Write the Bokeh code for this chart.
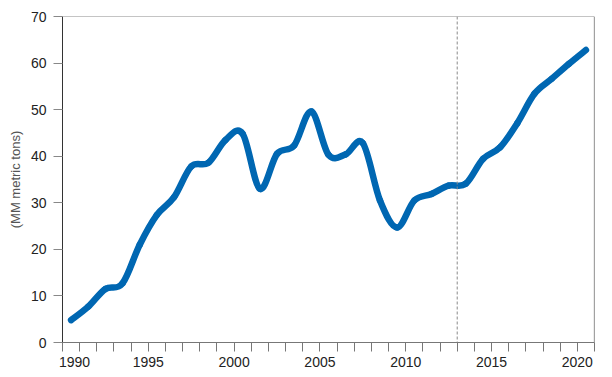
from bokeh.plotting import figure
from bokeh.models import Range1d, FixedTicker, Span, ColumnDataSource
from bokeh.embed import file_html
from bokeh.resources import INLINE

years = list(range(1990, 2021))
values = [4.8, 7.7, 11.5, 12.7, 21.0, 27.4, 31.2, 37.8, 38.6, 43.5,
          44.8, 33.0, 40.5, 42.3, 49.6, 40.3, 40.4, 42.8, 30.5, 24.7,
          30.5, 31.9, 33.7, 34.1, 39.4, 41.9, 47.1, 53.4, 56.6, 59.8, 62.8]
y_ticks = [0, 10, 20, 30, 40, 50, 60, 70]
x_label_years = [1990, 1995, 2000, 2005, 2010, 2015, 2020]
forecast_start = 2013
y_title = "(MM metric tons)"

FONT = "Liberation Sans"
BLUE = "#0067b2"

p = figure(width=604, height=372, output_backend="svg", toolbar_location=None,
           x_range=Range1d(1990, 2021), y_range=Range1d(0, 70),
           min_border_left=62, min_border_right=10, min_border_top=16,
           min_border_bottom=30)
p.outline_line_color = None
p.background_fill_color = "white"
p.border_fill_color = "white"
p.xgrid.visible = False
p.ygrid.visible = False

# smooth line (Excel-like) through yearly points placed mid-year
xs = [y + 0.5 for y in years]
n = len(xs)
def pt(i):
    i = max(0, min(n - 1, i))
    return xs[i], values[i]
x0, y0, x1, y1, cx0, cy0, cx1, cy1 = [], [], [], [], [], [], [], []
for i in range(n - 1):
    pa = pt(i - 1); pb = pt(i); pc = pt(i + 1); pd = pt(i + 2)
    x0.append(pb[0]); y0.append(pb[1]); x1.append(pc[0]); y1.append(pc[1])
    cx0.append(pb[0] + (pc[0] - pa[0]) / 6.0); cy0.append(pb[1] + (pc[1] - pa[1]) / 6.0)
    cx1.append(pc[0] - (pd[0] - pb[0]) / 6.0); cy1.append(pc[1] - (pd[1] - pb[1]) / 6.0)
src = ColumnDataSource(dict(x0=x0, y0=y0, x1=x1, y1=y1, cx0=cx0, cy0=cy0, cx1=cx1, cy1=cy1))
p.bezier(x0="x0", y0="y0", x1="x1", y1="y1", cx0="cx0", cy0="cy0", cx1="cx1", cy1="cy1",
         source=src, line_color=BLUE, line_width=6.5, line_cap="round")

# frame lines
p.add_layout(Span(location=70, dimension="width", line_color="#8a8a8a", line_width=1))
p.add_layout(Span(location=2021, dimension="height", line_color="#444444", line_width=1.2))
p.add_layout(Span(location=forecast_start, dimension="height", line_color="#8a8a8a",
                  line_width=1, line_dash="3 2"))

# x axis: every year gets a tick mark; labels every 5 years (first label nudged right)
first_label_pos = x_label_years[0] + 0.7
label_pos = [first_label_pos] + x_label_years[1:]
xa = p.xaxis[0]
xa.ticker = FixedTicker(ticks=label_pos, minor_ticks=list(range(1990, 2022)))
xa.major_label_overrides = {first_label_pos: str(x_label_years[0])}
xa.axis_line_color = "#777777"
xa.major_tick_line_color = None
xa.minor_tick_line_color = "#777777"
xa.major_tick_out = 9
xa.major_tick_in = 0
xa.minor_tick_out = 9
xa.minor_tick_in = 0
xa.major_label_standoff = 5
xa.major_label_text_font = FONT
xa.major_label_text_font_size = "14px"
xa.major_label_text_color = "#222222"

# y axis
ya = p.yaxis[0]
ya.ticker = FixedTicker(ticks=y_ticks)
ya.minor_tick_line_color = None
ya.axis_line_color = "#333333"
ya.major_tick_line_color = "#888888"
ya.major_tick_out = 9
ya.major_tick_in = 0
ya.major_label_standoff = 7
ya.major_label_text_font = FONT
ya.major_label_text_font_size = "14px"
ya.major_label_text_color = "#222222"
ya.axis_label = y_title
ya.axis_label_text_font = FONT
ya.axis_label_text_font_size = "13px"
ya.axis_label_text_font_style = "normal"
ya.axis_label_text_color = "#555555"
ya.axis_label_standoff = 5

open("out.html", "w").write(file_html(p, INLINE))
